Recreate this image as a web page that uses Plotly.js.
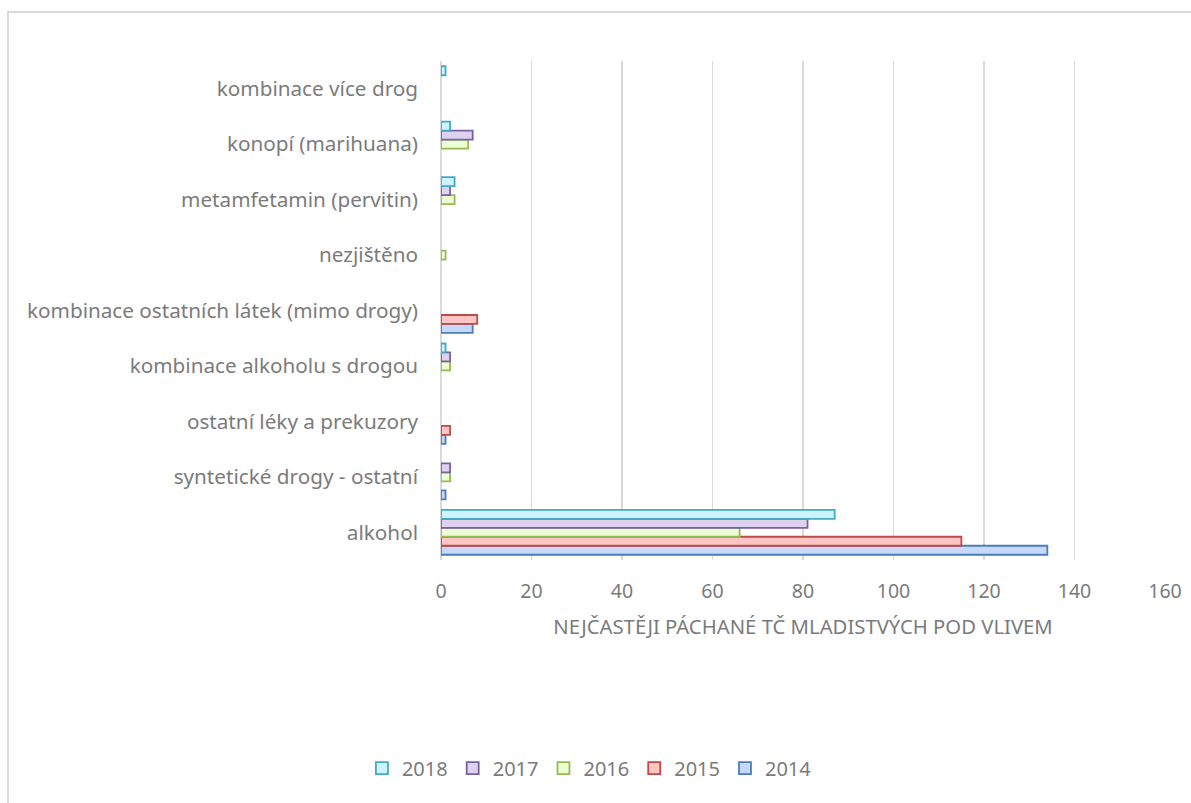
<!DOCTYPE html>
<html>
<head>
<meta charset="utf-8">
<script src="https://cdn.plot.ly/plotly-3.0.1.min.js"></script>
<style>
html,body{margin:0;padding:0;background:#fff;overflow:hidden;}
#chart{width:1191px;height:803px;}
#frame{position:absolute;left:7px;top:11px;width:1200px;height:820px;border:2px solid #d9d9d9;pointer-events:none;}
</style>
</head>
<body>
<div id="chart"></div>
<div id="frame"></div>
<script>
const categories = [
  "alkohol",
  "syntetické drogy - ostatní",
  "ostatní léky a prekuzory",
  "kombinace alkoholu s drogou",
  "kombinace ostatních látek (mimo drogy)",
  "nezjištěno",
  "metamfetamin (pervitin)",
  "konopí (marihuana)",
  "kombinace více drog"
];
const years = ["2014", "2015", "2016", "2017", "2018"];
const v2014 = [134, 1, 1, null, 7, null, null, null, null];
const v2015 = [115, null, 2, null, 8, null, null, null, null];
const v2016 = [66, 2, null, 2, null, 1, 3, 6, null];
const v2017 = [81, 2, null, 2, null, null, 2, 7, null];
const v2018 = [87, null, null, 1, null, null, 3, 2, 1];
const xTicks = [0, 20, 40, 60, 80, 100, 120, 140, 160];
const axisTitle = "NEJČASTĚJI PÁCHANÉ TČ MLADISTVÝCH POD VLIVEM";

const fills = ["#c6d9f8", "#ffc4c4", "#ecffd4", "#ddd2ef", "#cdf3ff"];
const lines = ["#4a7ebb", "#be4b48", "#98b954", "#7d60a0", "#46aac5"];
const series = [v2014, v2015, v2016, v2017, v2018];

const traces = series.map((vals, i) => ({
  type: "bar",
  orientation: "h",
  name: years[i],
  y: categories,
  x: vals,
  marker: {color: fills[i], line: {color: lines[i], width: 1.8}},
  hoverinfo: "x+name"
}));

const grey = "#7b7b7b";
const fam = "Noto Sans, Open Sans, sans-serif";
const layout = {
  width: 1191,
  height: 803,
  paper_bgcolor: "#ffffff",
  plot_bgcolor: "#ffffff",
  font: {family: fam, size: 20, color: grey},
  margin: {l: 441, r: 26, t: 61, b: 243},
  barmode: "group",
  bargap: 0.19,
  bargroupgap: 0,
  showlegend: true,
  legend: {
    orientation: "h",
    traceorder: "reversed",
    x: 0.205, xanchor: "center",
    y: -0.417, yanchor: "middle",
    font: {family: fam, size: 20, color: grey},
    itemwidth: 30,
    itemclick: false
  },
  xaxis: {
    range: [0, 160],
    tickvals: xTicks,
    ticktext: xTicks.map(String),
    showgrid: true,
    gridcolor: "#d9d9d9",
    gridwidth: 1.5,
    zeroline: true,
    zerolinecolor: "#d9d9d9",
    zerolinewidth: 1.5,
    showline: false,
    ticks: "",
    ticklabelstandoff: 17,
    tickfont: {family: fam, size: 19.5, color: grey},
    title: {text: axisTitle, font: {family: fam, size: 20.3, color: grey}, standoff: 17},
    fixedrange: true
  },
  yaxis: {
    type: "category",
    categoryorder: "array",
    categoryarray: categories,
    showgrid: false,
    zeroline: false,
    showline: false,
    ticks: "",
    ticklabelstandoff: 22,
    tickfont: {family: fam, size: 20.7, color: grey},
    fixedrange: true
  }
};

Plotly.newPlot("chart", traces, layout, {displayModeBar: false, staticPlot: true});
</script>
</body>
</html>
